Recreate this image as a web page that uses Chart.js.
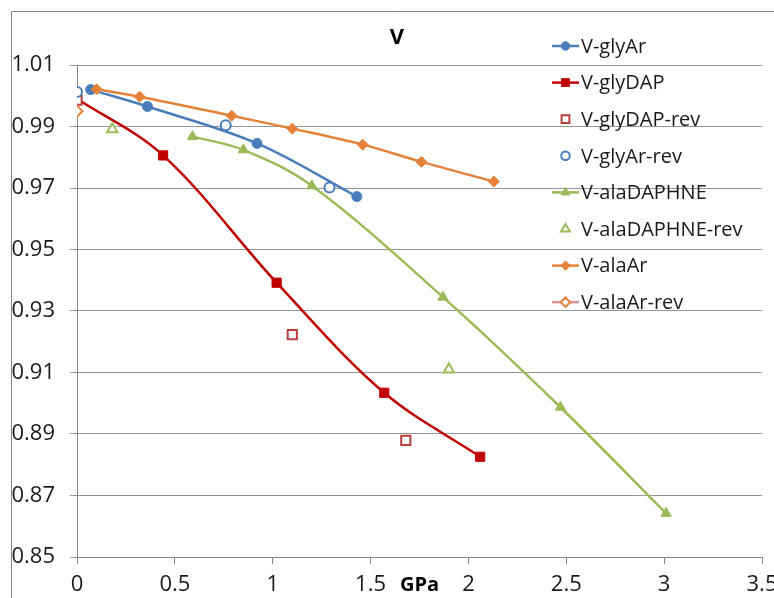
<!DOCTYPE html>
<html>
<head>
<meta charset="utf-8">
<title>V</title>
<script src="https://cdn.jsdelivr.net/npm/chart.js@4/dist/chart.umd.min.js"></script>
<style>
  html, body { margin: 0; padding: 0; background: #fff; }
  #wrap { position: relative; width: 774px; height: 598px; }
</style>
</head>
<body>
<div id="wrap"><canvas id="myChart"></canvas></div>
<script>
// values (x = pressure in GPa, y = relative volume)
var glyArX = [0.07, 0.36, 0.92, 1.43];
var glyArY = [1.0020, 0.9965, 0.9845, 0.9672];
var glyDapX = [0, 0.44, 1.02, 1.57, 2.06];
var glyDapY = [0.9990, 0.9806, 0.9392, 0.9034, 0.8826];
var glyDapRevX = [0, 1.10, 1.68];
var glyDapRevY = [0.9986, 0.9223, 0.8879];
var glyArRevX = [0, 0.76, 1.29];
var glyArRevY = [1.0012, 0.9904, 0.9702];
var alaDaphneX = [0.59, 0.85, 1.20, 1.87, 2.47, 3.01];
var alaDaphneY = [0.9867, 0.9824, 0.9707, 0.9345, 0.8987, 0.8642];
var alaDaphneRevX = [0.18, 1.90];
var alaDaphneRevY = [0.9891, 0.9110];
var alaArX = [0.10, 0.32, 0.79, 1.10, 1.46, 1.76, 2.13];
var alaArY = [1.0021, 0.9997, 0.9935, 0.9893, 0.9841, 0.9785, 0.9721];
var alaArRevX = [0];
var alaArRevY = [0.9950];

var xTicks = [0, 0.5, 1, 1.5, 2, 2.5, 3, 3.5];
var yTicks = [0.85, 0.87, 0.89, 0.91, 0.93, 0.95, 0.97, 0.99, 1.01];

function pts(xs, ys) {
    return xs.map(function (x, i) { return { x: x, y: ys[i] }; });
}

var blue = '#4a7ebb', red = '#c00000', openRed = '#b8413e';
var green = '#9bbb59', orange = '#e5823a', pink = '#d99795';

// [label, data, colour, marker, filled, has line, legend line colour]
var series = [
    ['V-glyAr', pts(glyArX, glyArY), blue, 'circle', true, true, blue],
    ['V-glyDAP', pts(glyDapX, glyDapY), red, 'rect', true, true, red],
    ['V-glyDAP-rev', pts(glyDapRevX, glyDapRevY), openRed, 'rect', false, false, null],
    ['V-glyAr-rev', pts(glyArRevX, glyArRevY), blue, 'circle', false, false, null],
    ['V-alaDAPHNE', pts(alaDaphneX, alaDaphneY), green, 'triangle', true, true, green],
    ['V-alaDAPHNE-rev', pts(alaDaphneRevX, alaDaphneRevY), green, 'triangle', false, false, null],
    ['V-alaAr', pts(alaArX, alaArY), orange, 'rectRot', true, true, orange],
    ['V-alaAr-rev', pts(alaArRevX, alaArRevY), orange, 'rectRot', false, true, pink]
];

var radius = { circle: 5, rect: 6.5, triangle: 6, rectRot: 5.5 };

var datasets = series.map(function (s, i) {
    return {
        label: s[0],
        data: s[1],
        showLine: s[5],
        borderColor: s[5] ? s[6] : s[2],
        borderWidth: 2.5,
        tension: 0.35,
        pointStyle: s[3],
        pointRadius: radius[s[3]],
        pointBackgroundColor: s[4] ? s[2] : '#ffffff',
        pointBorderColor: s[2],
        pointBorderWidth: s[4] ? 1 : 2,
        order: series.length - i   // later series drawn on top, like the original
    };
});

// frame, title and the legend box on the right
var extras = {
    id: 'extras',
    afterDraw: function (chart) {
        var ctx = chart.ctx;
        ctx.save();
        ctx.strokeStyle = '#868686';
        ctx.lineWidth = 1;
        ctx.beginPath();
        ctx.moveTo(11.5, 598);
        ctx.lineTo(11.5, 11.5);
        ctx.lineTo(774, 11.5);
        ctx.stroke();

        ctx.fillStyle = '#000';
        ctx.font = 'bold 22px "Open Sans"';
        ctx.textAlign = 'center';
        ctx.textBaseline = 'middle';
        ctx.fillText('V', 397, 38);

        ctx.textAlign = 'left';
        ctx.font = '20px "Open Sans"';
        chart.data.datasets.forEach(function (ds, i) {
            var y = 46 + i * 36.6;
            var s = series[i];
            if (s[6]) {
                ctx.strokeStyle = s[6];
                ctx.lineWidth = 2.5;
                ctx.beginPath();
                ctx.moveTo(552, y);
                ctx.lineTo(579, y);
                ctx.stroke();
            }
            ctx.fillStyle = ds.pointBackgroundColor;
            ctx.strokeStyle = ds.pointBorderColor;
            ctx.lineWidth = ds.pointBorderWidth;
            Chart.helpers.drawPoint(ctx, {
                pointStyle: ds.pointStyle,
                radius: ds.pointRadius * 0.85,
                borderWidth: ds.pointBorderWidth
            }, 565.5, y);
            ctx.fillStyle = '#1a1a1a';
            ctx.fillText(s[0], 581, y + 1);
        });
        ctx.restore();
    }
};

var ctx = document.getElementById('myChart').getContext('2d');
var chart = new Chart(ctx, {
    type: 'scatter',
    data: { datasets: datasets },
    plugins: [extras],
    options: {
        responsive: true,
        maintainAspectRatio: false,
        animation: false,
        layout: { padding: { top: 65, right: 12, left: 0, bottom: 0 } },
        plugins: {
            legend: { display: false },
            title: { display: false },
            tooltip: { enabled: false }
        },
        scales: {
            x: {
                type: 'linear',
                min: 0,
                max: 3.5,
                afterFit: function (scale) {
                    scale.height = 41;
                    // let the last label hang over the right edge like the original
                    scale.paddingLeft = 0;
                    scale.paddingRight = 0;
                },
                afterBuildTicks: function (scale) {
                    scale.ticks = xTicks.map(function (v) { return { value: v }; });
                },
                ticks: {
                    color: '#1a1a1a',
                    font: { family: '"Open Sans"', size: 22 },
                    padding: 8,
                    maxRotation: 0,
                    callback: function (v) { return String(v); }
                },
                grid: {
                    drawOnChartArea: false,
                    drawTicks: true,
                    tickLength: 7,
                    color: '#868686'
                },
                border: { color: '#868686' },
                title: {
                    display: true,
                    text: 'GPa',
                    color: '#000',
                    font: { family: '"Open Sans"', size: 20, weight: 'bold' },
                    padding: { top: 0, bottom: 1 }
                }
            },
            y: {
                type: 'linear',
                min: 0.85,
                max: 1.01,
                afterFit: function (scale) { scale.width = 77; },
                afterBuildTicks: function (scale) {
                    scale.ticks = yTicks.map(function (v) { return { value: v }; });
                },
                ticks: {
                    color: '#1a1a1a',
                    font: { family: '"Open Sans"', size: 22 },
                    padding: 15,
                    callback: function (v) { return v.toFixed(2); }
                },
                grid: {
                    color: '#969696',
                    tickLength: 7
                },
                border: { color: '#868686' }
            }
        }
    }
});
</script>
</body>
</html>
